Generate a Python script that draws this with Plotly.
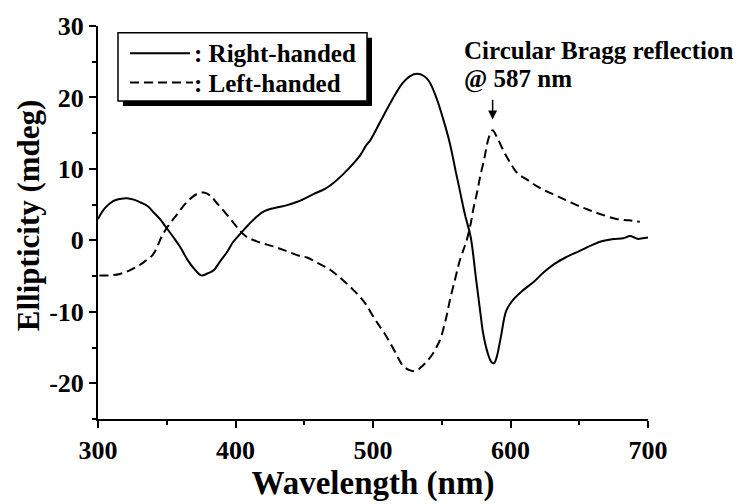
import plotly.graph_objects as go

# ---- data ----
wl_right = [300, 305, 311, 316, 321, 326, 331, 336, 340, 345, 350, 355, 360, 365, 370, 375,
            380, 384, 389, 394, 398, 403, 410, 420, 430, 437, 445, 457, 465, 471, 478, 486,
            491, 495, 498, 505, 512, 517, 522, 527, 532, 537, 541, 546, 551, 556, 560, 563,
            567, 571, 575, 578, 580, 583, 586, 588, 590, 593, 597, 602, 609, 617, 624, 632,
            640, 650, 660, 667, 675, 682, 687, 690, 693, 696, 700]
ell_right = [3.0, 4.5, 5.5, 5.8, 5.9, 5.7, 5.3, 4.8, 4.0, 3.0, 1.7, 0.4, -1.0, -2.7, -4.0, -4.9,
             -4.6, -4.2, -2.9, -1.6, -0.3, 0.8, 2.3, 4.0, 4.6, 4.9, 5.4, 6.5, 7.2, 8.0, 9.2, 10.8,
             12.0, 13.3, 14.0, 16.5, 19.0, 20.7, 22.1, 23.0, 23.3, 23.0, 22.2, 20.0, 17.0, 13.5, 9.8, 7.1,
             3.5, 0.5, -5.5, -10.0, -12.9, -15.5, -17.0, -17.2, -16.3, -13.5, -9.8, -8.3, -7.0, -5.8, -4.5, -3.3,
             -2.4, -1.5, -0.6, -0.1, 0.2, 0.3, 0.6, 0.4, 0.2, 0.3, 0.4]

wl_left = [301, 308, 316, 323, 330, 335, 340, 347, 352, 357, 362, 367, 372, 377, 382, 386,
           392, 398, 403, 408, 415, 423, 430, 437, 447, 452, 461, 468, 474, 480, 486, 491,
           495, 500, 504, 508, 512, 516, 519, 522, 527, 531, 534, 538, 543, 546, 549, 553,
           556, 560, 563, 566, 568, 571, 573, 576, 578, 581, 583, 585, 587, 590, 595, 600,
           605, 612, 619, 626, 634, 645, 655, 665, 677, 686, 694]
ell_left = [-4.9, -4.9, -4.7, -4.2, -3.5, -2.8, -2.0, 0.8, 2.3, 3.5, 4.8, 5.8, 6.5, 6.7, 6.2, 5.3,
            4.0, 2.6, 1.4, 0.5, -0.1, -0.6, -1.0, -1.5, -2.2, -2.4, -3.3, -4.0, -4.9, -5.9, -7.0, -8.0,
            -9.0, -10.6, -11.8, -12.9, -14.2, -15.6, -16.7, -17.6, -18.2, -18.3, -17.9, -17.2, -16.0, -15.0, -13.8, -11.0,
            -8.3, -5.2, -2.9, -1.2, -0.1, 2.3, 4.4, 7.0, 9.0, 11.5, 13.5, 14.8, 15.4, 14.5, 12.5, 10.8,
            9.4, 8.5, 7.6, 6.9, 6.2, 5.2, 4.4, 3.7, 3.0, 2.8, 2.6]

x_ticks = [300, 400, 500, 600, 700]
y_ticks = [-20, -10, 0, 10, 20, 30]
legend_labels = [": Right-handed", ": Left-handed"]
annotation_lines = ["Circular Bragg reflection", "@ 587 nm"]
bragg_wl = 587

FONT = "Liberation Serif"
W, H = 741, 504
L, R, T, B = 98, 648, 20, 423


def px(x):
    return (x - L) / (R - L)


def py(y):
    return (B - y) / (B - T)


fig = go.Figure()
fig.add_trace(go.Scatter(x=wl_right, y=ell_right, mode="lines", line_shape="spline",
                         line=dict(color="black", width=2), showlegend=False))
fig.add_trace(go.Scatter(x=wl_left, y=ell_left, mode="lines", line_shape="spline",
                         line=dict(color="black", width=2, dash="9px,5px"), showlegend=False))

# legend box (shadow + frame) drawn manually
shapes = [
    dict(type="rect", xref="paper", yref="paper", x0=px(123), x1=px(372), y0=py(102), y1=py(32),
         fillcolor="black", line=dict(width=0), layer="above"),
    dict(type="rect", xref="paper", yref="paper", x0=px(118), x1=px(367), y0=py(97), y1=py(27),
         fillcolor="white", line=dict(color="black", width=1.5), layer="above"),
    dict(type="line", xref="paper", yref="paper", x0=px(130), x1=px(190), y0=py(48), y1=py(48),
         line=dict(color="black", width=2), layer="above"),
    dict(type="line", xref="paper", yref="paper", x0=px(130), x1=px(193), y0=py(78), y1=py(78),
         line=dict(color="black", width=2, dash="9px,5px"), layer="above"),
]
bold = lambda s: f"<b>{s}</b>"
TXT = dict(family=FONT, size=25, color="black")
annotations = [
    dict(xref="paper", yref="paper", x=px(192), y=py(48), text=bold(legend_labels[0]), showarrow=False,
         xanchor="left", yanchor="middle", font=TXT),
    dict(xref="paper", yref="paper", x=px(192), y=py(79), text=bold(legend_labels[1]), showarrow=False,
         xanchor="left", yanchor="middle", font=TXT),
    dict(xref="paper", yref="paper", x=px(462), y=py(45), text=bold(annotation_lines[0]), showarrow=False,
         xanchor="left", yanchor="middle", font=TXT),
    dict(xref="paper", yref="paper", x=px(462), y=py(74), text=bold(annotation_lines[1]), showarrow=False,
         xanchor="left", yanchor="middle", font=TXT),
    dict(x=bragg_wl, y=16.9, ax=bragg_wl, ay=19.9, xref="x", yref="y", axref="x", ayref="y",
         text="", showarrow=True, arrowhead=2, arrowsize=1.2, arrowwidth=1.5, arrowcolor="black"),
    # y-axis title
    dict(xref="paper", yref="paper", x=px(28), y=py(214), text=bold("Ellipticity (mdeg)"),
         showarrow=False, textangle=-90, xanchor="center", yanchor="middle",
         font=dict(family=FONT, size=31, color="black")),
]

axis_common = dict(showline=True, linecolor="black", linewidth=2, ticks="outside", ticklen=7,
                   tickwidth=2, tickcolor="black", showgrid=False, zeroline=False,
                   tickfont=dict(family=FONT, size=26, color="black"))

fig.update_layout(
    width=W, height=H,
    margin=dict(l=L, r=W - R, t=T, b=H - B, pad=0),
    paper_bgcolor="white", plot_bgcolor="white",
    font=dict(family=FONT, color="black"),
    shapes=shapes, annotations=annotations,
    xaxis=dict(range=[300, 700], tickvals=x_ticks, ticktext=[bold(v) for v in x_ticks],
               title=dict(text=bold("Wavelength (nm)"), font=dict(family=FONT, size=33), standoff=4),
               minor=dict(ticks="outside", ticklen=4, tickwidth=1.5, tickcolor="black", dtick=50, tick0=300),
               **axis_common),
    yaxis=dict(range=[-25, 30], tickvals=y_ticks, ticktext=[bold(v) for v in y_ticks],
               minor=dict(ticks="outside", ticklen=4, tickwidth=1.5, tickcolor="black", dtick=5, tick0=0),
               **axis_common),
)

fig.write_html("out.html")
